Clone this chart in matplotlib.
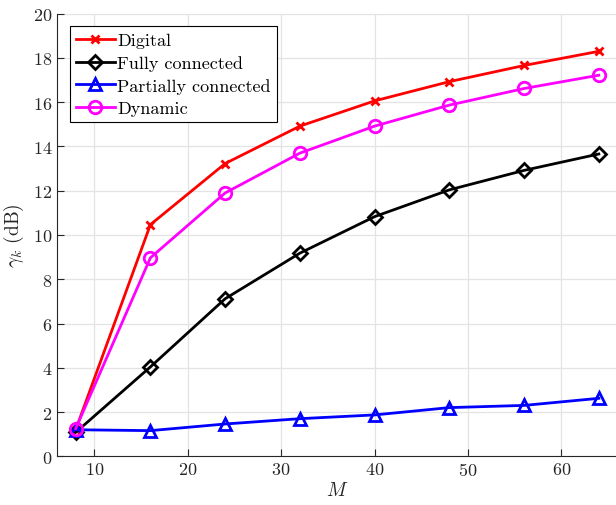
import matplotlib
matplotlib.use("Agg")
import matplotlib.pyplot as plt

plt.rcParams["font.family"] = "serif"
plt.rcParams["font.serif"] = ["cmr10"]
plt.rcParams["mathtext.fontset"] = "cm"
plt.rcParams["axes.formatter.use_mathtext"] = True

# dados
M = [8, 16, 24, 32, 40, 48, 56, 64]
digital = [1.2, 10.47, 13.23, 14.92, 16.06, 16.93, 17.66, 18.3]
fully = [1.08, 4.04, 7.12, 9.18, 10.83, 12.04, 12.92, 13.66]
partial = [1.2, 1.16, 1.46, 1.7, 1.87, 2.2, 2.3, 2.62]
dynamic = [1.25, 8.97, 11.9, 13.7, 14.92, 15.87, 16.62, 17.22]

fig = plt.figure(figsize=(6.16, 5.06), dpi=100)
ax = fig.add_axes([57 / 616, 1 - 457.3 / 506, 560.5 / 616, 442.6 / 506])

ax.plot(M, digital, color="#ff0000", marker="x", label="Digital",
        lw=2, ms=6, mew=2)
ax.plot(M, fully, color="black", marker="D", label="Fully connected",
        lw=2, ms=7, mew=2, mfc="none")
ax.plot(M, partial, color="#0000ff", marker="^", label="Partially connected",
        lw=2, ms=8, mew=2, mfc="none")
ax.plot(M, dynamic, color="#ff00ff", marker="o", label="Dynamic",
        lw=2, ms=9, mew=2, mfc="none")

ax.set_xlim(6, 66)
ax.set_ylim(0, 20)
ax.set_xticks([10, 20, 30, 40, 50, 60])
ax.set_yticks(range(0, 21, 2))
ax.grid(True, color="#e3e3e3", lw=0.9)
ax.set_axisbelow(True)
for s in ["top", "right"]:
    ax.spines[s].set_visible(False)
for s in ["left", "bottom"]:
    ax.spines[s].set_color("#262626")
ax.tick_params(direction="in", labelsize=13, colors="#262626", length=5)
ax.set_xlabel(r"$M$", fontsize=14, color="#262626", labelpad=2)
ax.set_ylabel(r"$\gamma_k$ (dB)", fontsize=14, color="#262626", labelpad=5)

leg = ax.legend(loc="upper left", fontsize=13, frameon=True, fancybox=False,
                edgecolor="black", framealpha=1, handlelength=2.15,
                handletextpad=0.12, borderpad=0.35, labelspacing=0.38,
                borderaxespad=0.7)
leg.get_frame().set_linewidth(0.8)

plt.savefig("out.png", dpi=100)
